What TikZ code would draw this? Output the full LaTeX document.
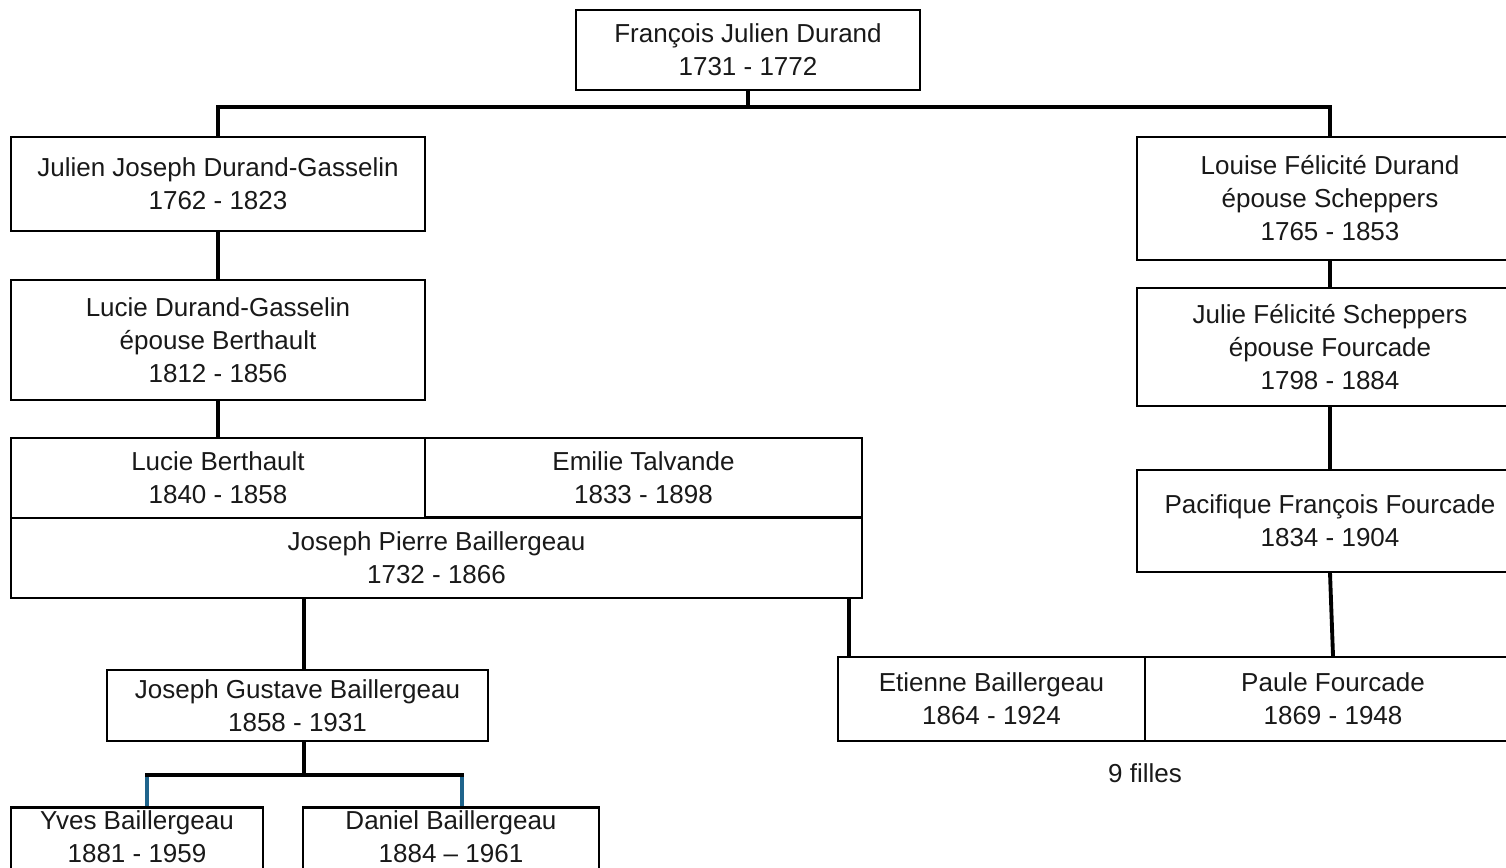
\documentclass[tikz,border=0pt]{standalone}
\usepackage{fontspec}
\setmainfont{Liberation Sans}
\definecolor{inkgrey}{RGB}{25,25,25}
\definecolor{kidblue}{RGB}{31,100,140}
\begin{document}
\begin{tikzpicture}[x=0.02cm,y=-0.02cm,
    person/.style={draw,line width=1.2pt,rectangle,align=center,inner sep=0pt,text=inkgrey,font=\fontsize{14.8}{18.8}\selectfont},
    link/.style={line width=2.2pt},
    kidlink/.style={line width=2.2pt,draw=kidblue}]
    \clip (0,0) rectangle (1506,867);
    \fill[white] (0,0) rectangle (1506,867);
    %% Ancestor
    \node[person,minimum width=6.88cm,minimum height=1.60cm] (fjd) at (748,50) {François Julien Durand\\1731 - 1772};
    %% Left branch
    \node[person,minimum width=8.28cm,minimum height=1.88cm] (jjdg) at (218,184) {Julien Joseph Durand-Gasselin\\1762 - 1823};
    \node[person,minimum width=8.28cm,minimum height=2.40cm] (ldg) at (218,340) {Lucie Durand-Gasselin\\épouse Berthault\\1812 - 1856};
    \node[person,minimum width=8.28cm,minimum height=1.60cm] (lb) at (218,478) {Lucie Berthault\\1840 - 1858};
    \node[person,minimum width=8.74cm,minimum height=1.58cm] (et) at (643.5,477.5) {Emilie Talvande\\1833 - 1898};
    \node[person,minimum width=17.02cm,minimum height=1.60cm] (jpb) at (436.5,558) {Joseph Pierre Baillergeau\\1732 - 1866};
    \node[person,minimum width=7.62cm,minimum height=1.42cm] (jgb) at (297.5,705.5) {Joseph Gustave Baillergeau\\1858 - 1931};
    \node[person,minimum width=5.04cm,minimum height=1.32cm,text depth=0.15cm] (yb) at (137,840.5) {Yves Baillergeau\\1881 - 1959};
    \node[person,minimum width=5.92cm,minimum height=1.32cm,text depth=0.15cm] (db) at (451,840.5) {Daniel Baillergeau\\1884 -- 1961};
    %% Right branch
    \node[person,minimum width=7.72cm,minimum height=2.46cm] (lfd) at (1330,198.5) {Louise Félicité Durand\\épouse Scheppers\\1765 - 1853};
    \node[person,minimum width=7.72cm,minimum height=2.36cm] (jfs) at (1330,347) {Julie Félicité Scheppers\\épouse Fourcade\\1798 - 1884};
    \node[person,minimum width=7.72cm,minimum height=2.04cm] (pff) at (1330,521) {Pacifique François Fourcade\\1834 - 1904};
    \node[person,minimum width=6.14cm,minimum height=1.68cm] (eb) at (991.5,699) {Etienne Baillergeau\\1864 - 1924};
    \node[person,minimum width=7.52cm,minimum height=1.68cm] (pf) at (1333,699) {Paule Fourcade\\1869 - 1948};
    \node[text=inkgrey,font=\fontsize{14.8}{18.8}\selectfont] (filles) at (1145,773) {9 filles};
    %% Helper points
    \coordinate (gus) at (304,0);
    \coordinate (etl) at (849,0);
    \coordinate (kidl) at (147,775);
    \coordinate (kidr) at (462,775);
    %% Links
    \draw[link] (fjd.south) -- ++(0,16) coordinate (bar);
    \draw[link] (jjdg.north) |- (bar) -| (lfd.north);
    \draw[link] (jjdg.south) -- (ldg.north);
    \draw[link] (ldg.south) -- (lb.north);
    \draw[link] (lfd.south) -- (jfs.north);
    \draw[link] (jfs.south) -- (pff.north);
    \draw[link] (pff.south) -- (pf.north);
    \draw[link] (jpb.south -| gus) -- (jgb.north -| gus);
    \draw[link] (jpb.south -| etl) -- (eb.north -| etl);
    \draw[link] (jgb.south -| gus) -- (kidl -| gus);
    \draw[link] ([xshift=-1.1pt]kidl) -- ([xshift=1.1pt]kidr);
    \draw[kidlink] ([yshift=-1.1pt]kidl) -- (yb.north -| kidl);
    \draw[kidlink] ([yshift=-1.1pt]kidr) -- (db.north -| kidr);
\end{tikzpicture}
\end{document}
